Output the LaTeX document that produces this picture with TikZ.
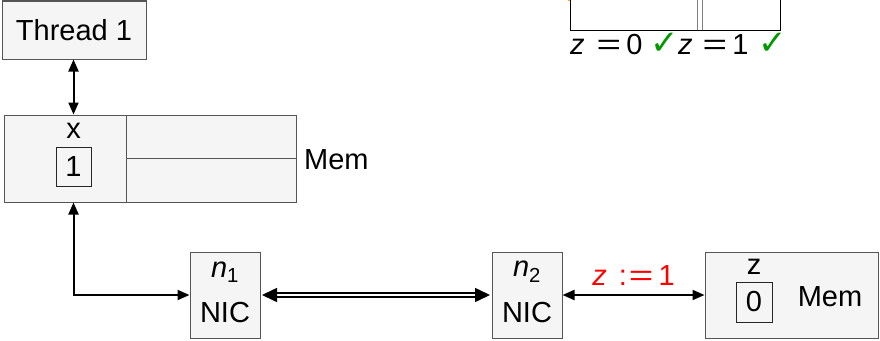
\documentclass[tikz,border=0pt]{standalone}
\usepackage{fontspec}
\usepackage{graphicx}
\setmainfont{Liberation Sans}
\newfontfamily\symfont{DejaVu Sans}
\usetikzlibrary{arrows.meta}
\definecolor{boxfill}{HTML}{F5F5F5}
\definecolor{boxline}{HTML}{555555}
\definecolor{chk}{HTML}{009900}
\newcommand{\chkmark}{{\symfont\fontsize{34}{34}\selectfont\color{chk}✓}}
\newcommand{\bigeq}{\scalebox{1.45}[1]{=}}
\begin{document}
\begin{tikzpicture}[x=1pt,y=-1pt,
  font=\fontsize{29}{34}\selectfont,
  box/.style={draw=boxline, fill=boxfill, line width=1pt, inner sep=0pt},
  val/.style={draw=black!85, line width=0.9pt, inner sep=0pt},
  lbl/.style={inner sep=0pt},
  arr/.style={line width=2pt, {Triangle[length=12pt,width=10pt]}-{Triangle[length=12pt,width=10pt]}},
  dblarr/.style={line width=1.6pt, double, double distance=2pt, {Triangle[length=15pt,width=14pt]}-{Triangle[length=15pt,width=14pt]}}]
\useasboundingbox (0,0) rectangle (880,340);

% clipped box at top
\fill[orange] (569,0) circle (1.2pt);
\draw[black, line width=1pt] (570,-3) -- (570,30) -- (780,30) -- (780,-3);
\draw[gray, line width=1pt] (697,-3) -- (697,30) (702,-3) -- (702,30);
\node[lbl, anchor=base west] (z0) at (570,54) {{\itshape z}\hspace{12pt}\bigeq\hspace{5pt}0\hspace{8pt}\chkmark};
\node[lbl, anchor=base west] (z1) at (678,54) {{\itshape z}\hspace{10pt}\bigeq\hspace{5pt}1\hspace{10pt}\chkmark};

% Thread 1
\node[box, minimum width=144pt, minimum height=58pt] (t1) at (74,30) {Thread 1};

% Memory 1
\node[box, minimum width=122pt, minimum height=87pt] (memL) at (65,158.5) {};
\node[box, minimum width=170pt, minimum height=43.5pt] (memR1) at (211,136.75) {};
\node[box, minimum width=170pt, minimum height=43.5pt] (memR2) at (211,180.25) {};
\node[lbl] (xl) at (73.5,131) {x};
\node[val, minimum width=35pt, minimum height=39pt] (xv) at (73.5,166.5) {1};
\node[lbl, anchor=west] (meml) at (304,160) {Mem};

% NICs
\node[box, minimum width=70pt, minimum height=86pt] (n1) at (225,295) {};
\node[lbl] (n1a) at (225,272) {{\itshape n}\textsubscript{1}};
\node[lbl] (n1b) at (225,313) {NIC};
\node[box, minimum width=70pt, minimum height=86pt] (n2) at (527,295) {};
\node[lbl] (n2a) at (527,272) {{\itshape n}\textsubscript{2}};
\node[lbl] (n2b) at (527,313) {NIC};

% Memory 2
\node[box, minimum width=173pt, minimum height=86pt] (mem2) at (791.5,295) {};
\node[lbl] (zl) at (754,267) {z};
\node[val, minimum width=36pt, minimum height=40pt] (zv) at (754,302) {0};
\node[lbl] (mem2l) at (830,297) {Mem};

% connectors
\draw[arr] (t1.south -| xv) -- (xv |- memL.north);
\draw[arr] (n1.west) -- (n1.west -| xv) -- (xv |- memL.south);
\draw[dblarr, shorten <=1.5pt, shorten >=1.5pt] (n1.east) -- (n2.west);
\draw[arr] (n2.east) -- (mem2.west)
  node[midway, above=9pt, lbl, text=red] (asg) {{\itshape z}\hspace{12pt}:\hspace{2pt}\bigeq\hspace{5pt}1};
\end{tikzpicture}
\end{document}
